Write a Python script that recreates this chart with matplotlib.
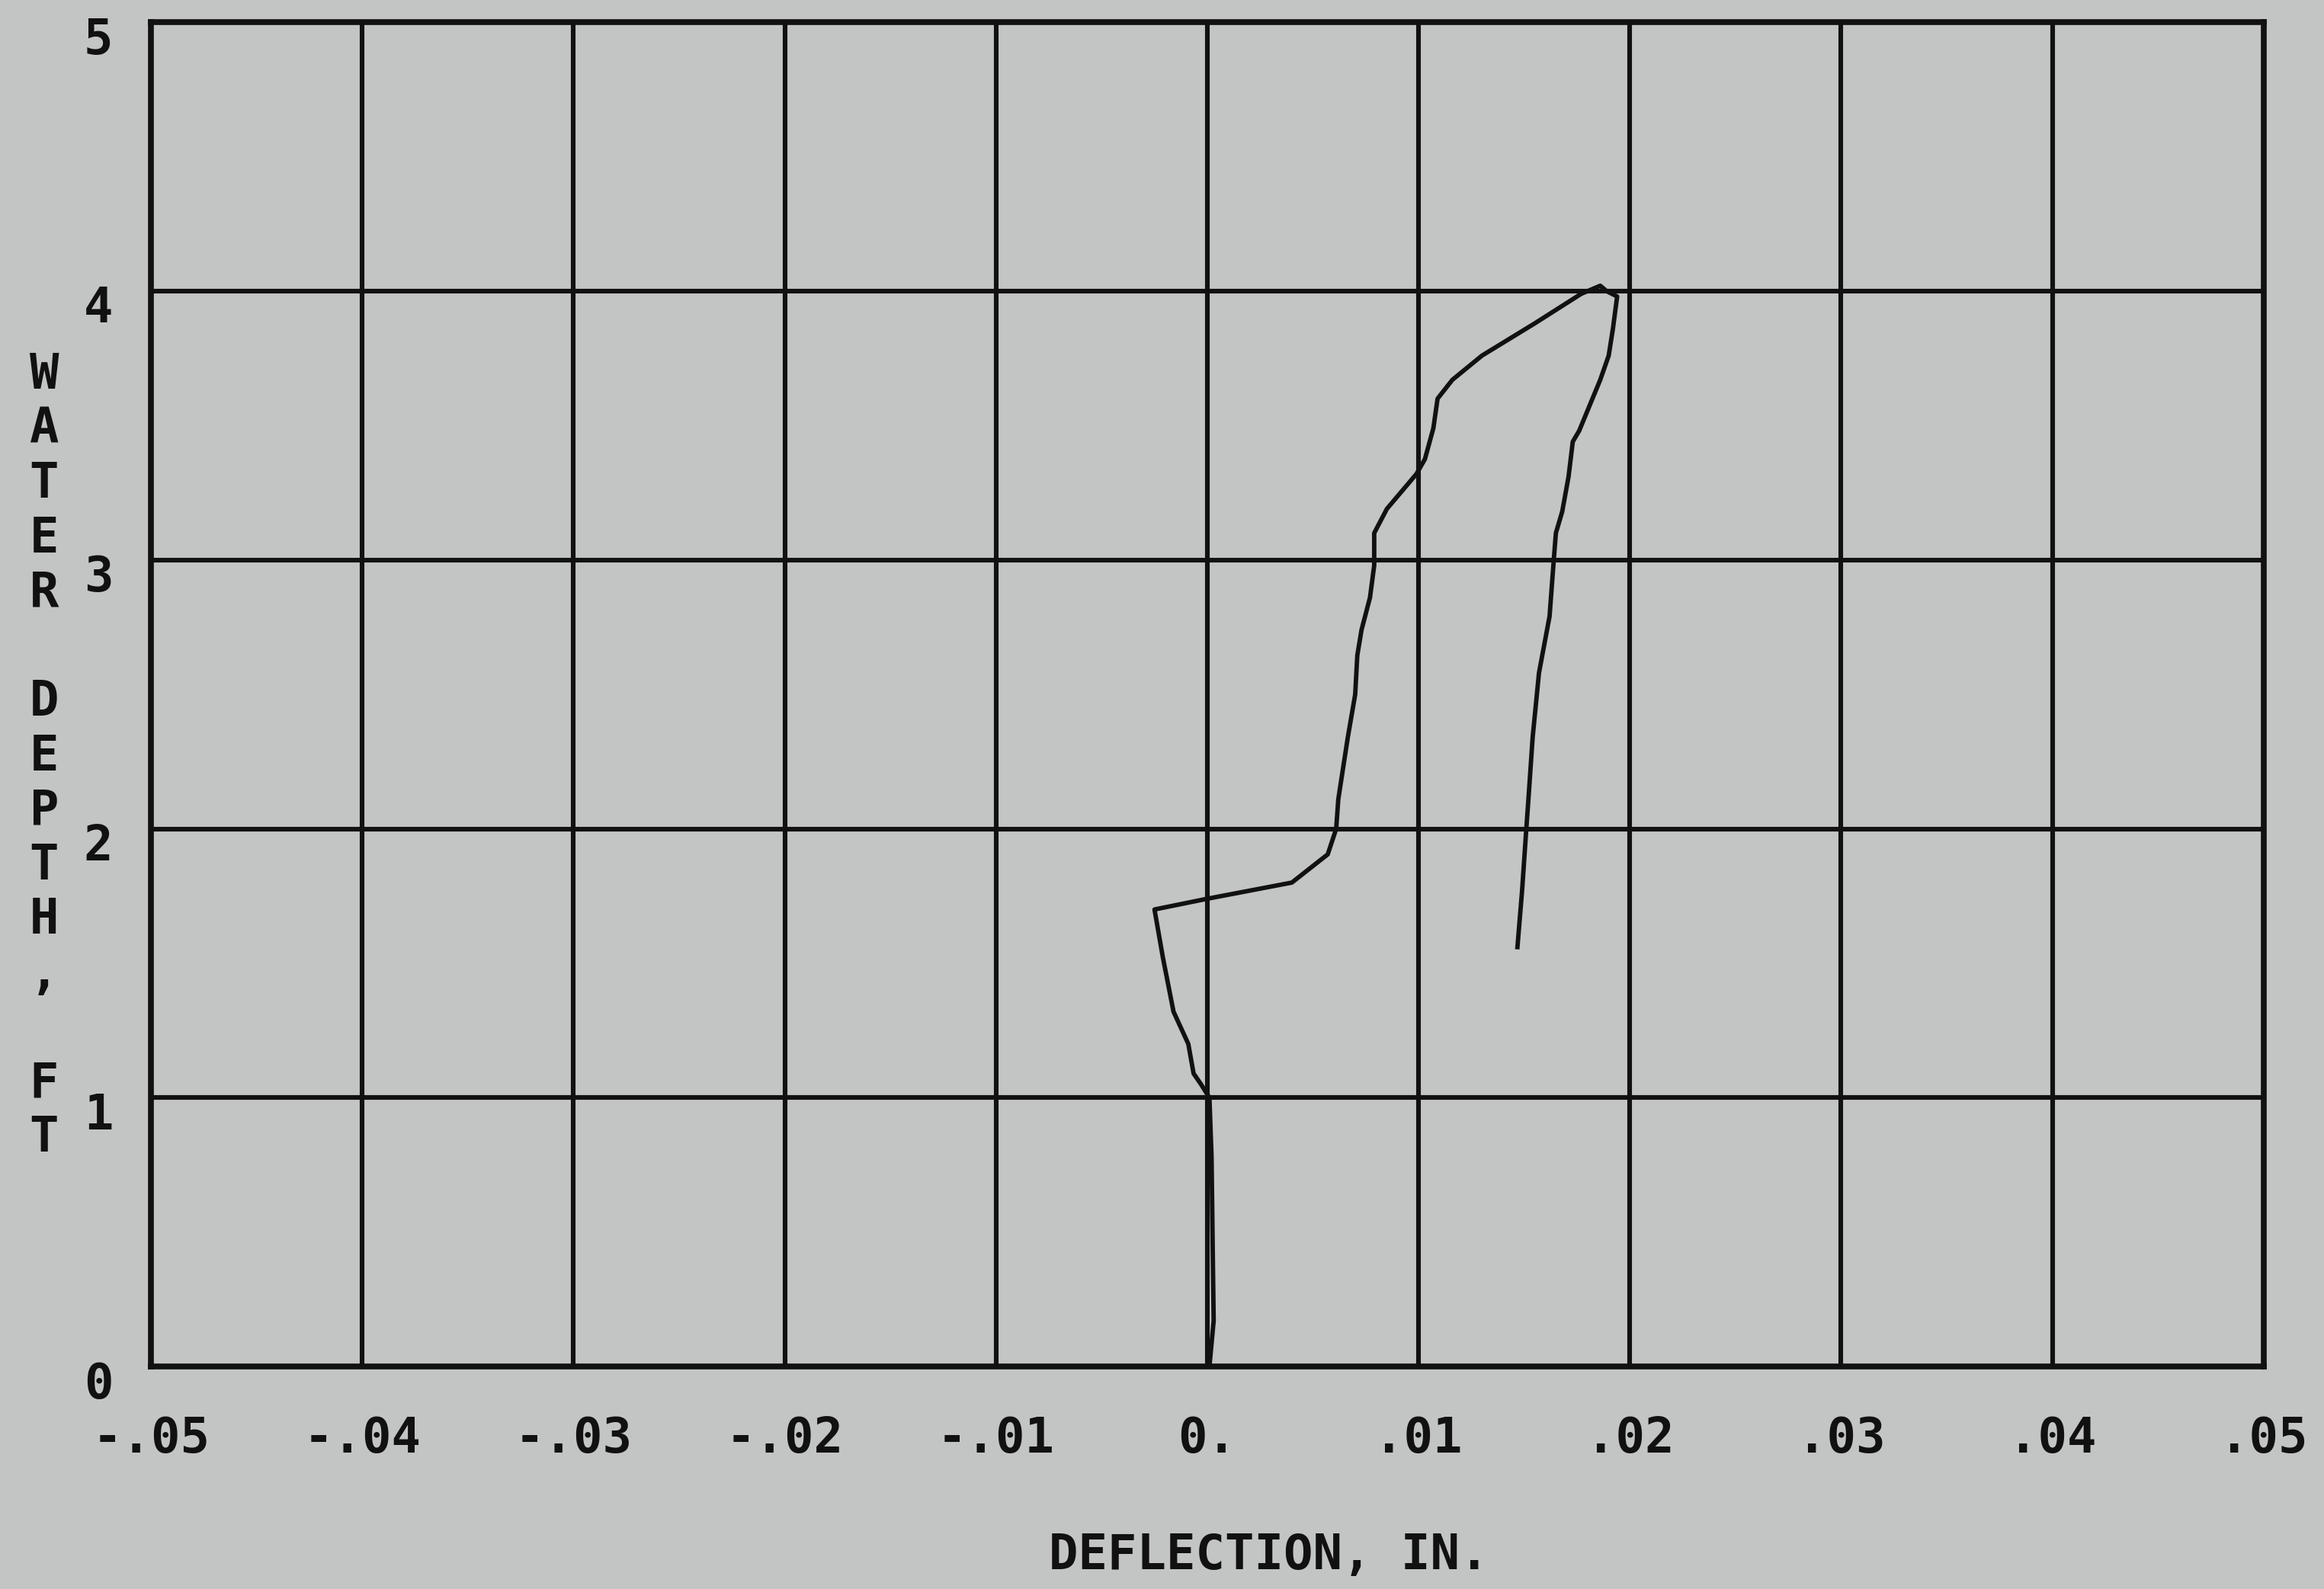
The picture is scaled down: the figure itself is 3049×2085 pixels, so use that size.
import matplotlib
matplotlib.use('Agg')
import matplotlib.pyplot as plt
from matplotlib.transforms import ScaledTranslation

# deflection (in.) vs water depth (ft): rise from 0 to 4 ft, then fall back
deflection = [0.0001, 0.0003, 0.0002, 0.0001, -0.0003, -0.00065, -0.0009, -0.0016,
              -0.0021, -0.0025, 0.0, 0.0040, 0.0057, 0.0061, 0.0062, 0.00665,
              0.0070, 0.0071, 0.0073, 0.0077, 0.0079, 0.0079, 0.0085, 0.0099,
              0.0103, 0.0107, 0.0109, 0.0116, 0.0130, 0.0155, 0.0177, 0.0186,
              0.0189, 0.0194, 0.0192, 0.0190, 0.0186, 0.0176, 0.0173, 0.0171,
              0.0168, 0.0165, 0.0164, 0.0162, 0.0157, 0.0155, 0.0154, 0.0152,
              0.0151, 0.0149, 0.01468]
depth = [0.0, 0.17, 0.78, 1.0, 1.05, 1.09, 1.20, 1.32,
         1.52, 1.70, 1.74, 1.80, 1.905, 2.0, 2.11, 2.34,
         2.50, 2.645, 2.74, 2.86, 2.98, 3.10, 3.19, 3.32,
         3.375, 3.49, 3.60, 3.67, 3.76, 3.88, 3.99, 4.02,
         4.0, 3.98, 3.86, 3.76, 3.67, 3.48, 3.44, 3.31,
         3.18, 3.10, 3.0, 2.79, 2.58, 2.42, 2.34, 2.11,
         2.0, 1.77, 1.56]

x_ticks = [-0.05, -0.04, -0.03, -0.02, -0.01, 0.0, 0.01, 0.02, 0.03, 0.04, 0.05]
x_labels = ['-.05', '-.04', '-.03', '-.02', '-.01', '0.', '.01', '.02', '.03', '.04', '.05']
y_ticks = [0, 1, 2, 3, 4, 5]
y_labels = ['0', '1', '2', '3', '4', '5']
y_title = 'WATER DEPTH, FT'
x_title = 'DEFLECTION, IN.'

paper = '#c3c5c5'
ink = '#111111'
font = dict(family='DejaVu Sans Mono', weight='bold', size=46, color=ink)

fig = plt.figure(figsize=(30.49, 20.85), dpi=100, facecolor=paper)
ax = fig.add_axes([0.065, 0.140, 0.909, 0.846])
ax.set_facecolor(paper)

ax.plot(deflection, depth, color=ink, lw=4.2, solid_joinstyle='round', zorder=3)

ax.set_xlim(-0.05, 0.05)
ax.set_ylim(0, 5)
ax.set_xticks(x_ticks)
ax.set_yticks(y_ticks)
ax.set_xticklabels(x_labels, fontdict=font)
ax.set_yticklabels(y_labels, fontdict=font)
ax.tick_params(length=0, pad=46, axis='x')
ax.tick_params(length=0, pad=36, axis='y')
ax.grid(True, color=ink, lw=4.4)
for s in ax.spines.values():
    s.set_linewidth(5.5)
    s.set_color(ink)

# y labels sit a little below their grid lines
shift = ScaledTranslation(0, -0.17, fig.dpi_scale_trans)
for lbl in ax.get_yticklabels():
    lbl.set_transform(lbl.get_transform() + shift)

# stacked vertical title
top, step = 0.764, 0.0343
for i, ch in enumerate(y_title):
    if ch != ' ':
        fig.text(0.019, top - i * step, ch, ha='center', va='center', **font)

fig.text(0.546, 0.021, x_title, ha='center', va='center', fontsize=46,
         family='DejaVu Sans Mono', weight='bold', color=ink)

fig.savefig('out.png', dpi=100, facecolor=paper)
